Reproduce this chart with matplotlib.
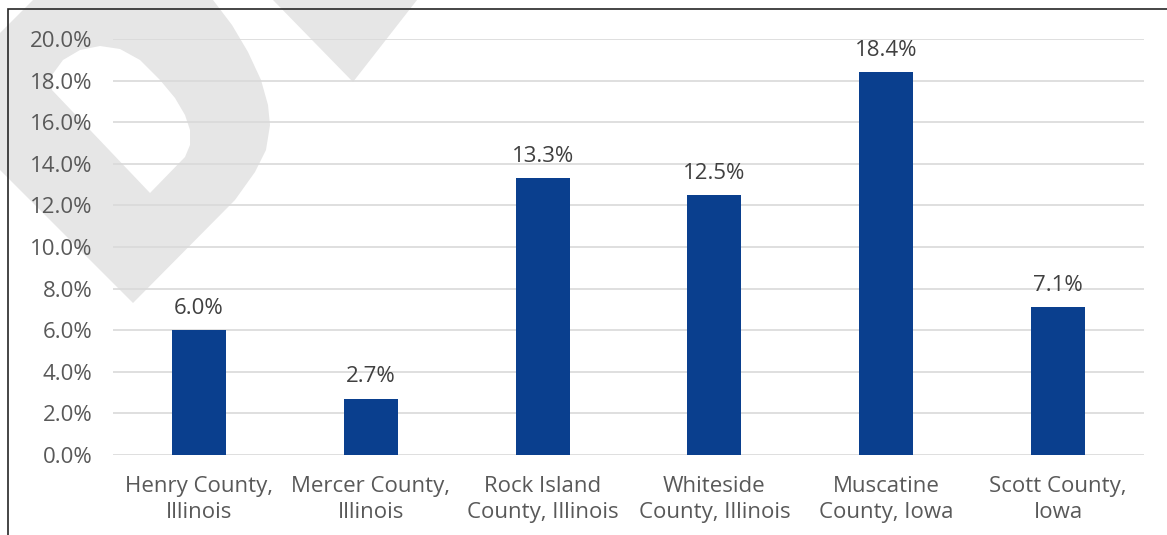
import numpy as np
import matplotlib.pyplot as plt
from matplotlib.path import Path
from matplotlib.patches import PathPatch, Rectangle, Polygon

counties = ['Henry County,\nIllinois', 'Mercer County,\nIllinois', 'Rock Island\nCounty, Illinois',
            'Whiteside\nCounty, Illinois', 'Muscatine\nCounty, Iowa', 'Scott County,\nIowa']
values = [6.0, 2.7, 13.3, 12.5, 18.4, 7.1]
yticks = [0, 2, 4, 6, 8, 10, 12, 14, 16, 18, 20]

plt.rcParams['font.family'] = ['Open Sans', 'DejaVu Sans']
W, H = 1167, 535
fig = plt.figure(figsize=(W / 100, H / 100), dpi=100)

# grey watermark behind the chart (pixel coords, y from top)
def px(pts):
    return [(x / W, 1 - y / H) for x, y in pts]

outer = px([(0, 33), (33, 0), (213, 0), (232, 25), (248, 52), (261, 80), (268, 105),
            (270, 125), (266, 150), (255, 172), (235, 200), (133, 303), (0, 170), (0, 33)])
hole = px([(150, 193), (185, 157), (190, 145), (190, 130), (185, 115), (175, 98), (160, 80),
           (140, 60), (120, 49), (100, 46), (80, 50), (63, 60), (52, 75), (52, 90), (150, 193)])
verts = outer + hole
codes = ([Path.MOVETO] + [Path.LINETO] * (len(outer) - 2) + [Path.CLOSEPOLY] +
         [Path.MOVETO] + [Path.LINETO] * (len(hole) - 2) + [Path.CLOSEPOLY])
fig.patches.append(PathPatch(Path(verts, codes), transform=fig.transFigure,
                             facecolor='#e6e6e6', edgecolor='none', zorder=-2))
fig.patches.append(Polygon(px([(273, 0), (417, 0), (353, 82)]), closed=True,
                           transform=fig.transFigure, facecolor='#e6e6e6',
                           edgecolor='none', zorder=-2))
# frame
fig.patches.append(Rectangle((8 / W, -0.1), 1.2, 1 - 9 / H + 0.1, transform=fig.transFigure,
                             fill=False, edgecolor='#262626', linewidth=1.2, zorder=5))

ax = fig.add_axes([113 / W, 80 / H, 1031 / W, 416 / H])
ax.patch.set_alpha(0)
x = np.arange(len(values))
bars = ax.bar(x, values, width=0.315, color='#0a3f8e', zorder=3)
for xi, v in zip(x, values):
    ax.text(xi, v + 0.55, f'{v:.1f}%', ha='center', va='bottom', fontsize=16, color='#404040')

ax.set_xlim(-0.5, len(values) - 0.5)
ax.set_ylim(0, 20)
ax.set_yticks(yticks)
ax.set_yticklabels([f'{t:.1f}%' for t in yticks])
ax.set_xticks(x)
ax.set_xticklabels(counties, linespacing=1.3)
ax.tick_params(axis='y', length=0, pad=15, labelsize=16, labelcolor='#595959')
ax.tick_params(axis='x', length=0, pad=15, labelsize=16, labelcolor='#595959')
ax.yaxis.grid(True, color='#d9d9d9', linewidth=1.2, zorder=0)
for s in ax.spines.values():
    s.set_visible(False)

fig.savefig('out.png', dpi=100)
